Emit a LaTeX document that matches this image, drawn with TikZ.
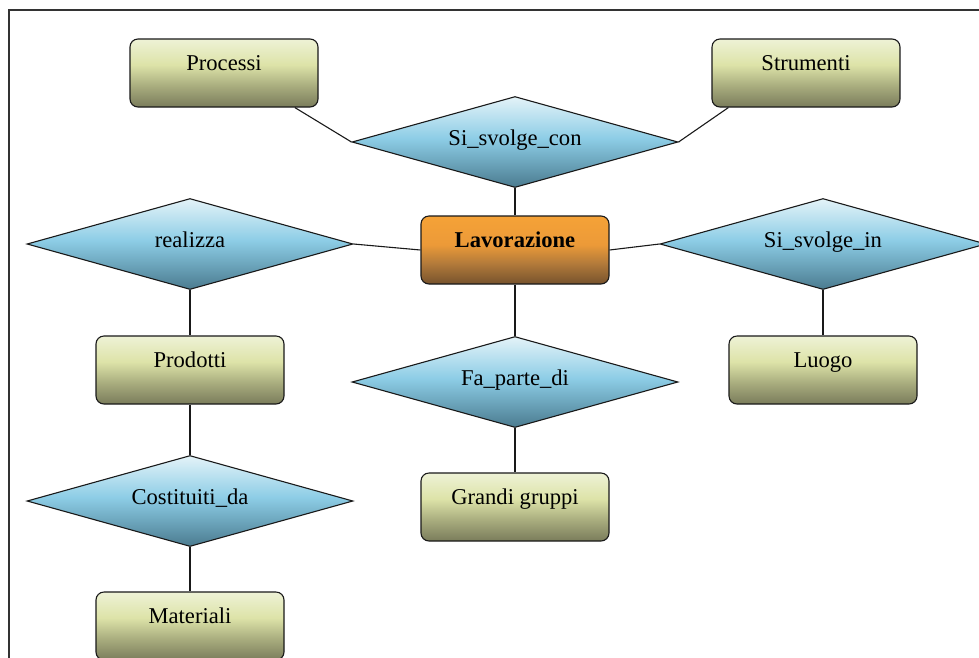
\documentclass[tikz,border=0pt]{standalone}
\usepackage{fontspec}
\setmainfont{Liberation Serif}
\usetikzlibrary{shapes.geometric}

\definecolor{entTop}{HTML}{EEF2D6}
\definecolor{entMid}{HTML}{DDE3A8}
\definecolor{entLow}{HTML}{A7AB7D}
\definecolor{entBot}{HTML}{7A7C5B}
\definecolor{relTop}{HTML}{E4F3F8}
\definecolor{relMid}{HTML}{8DCDE6}
\definecolor{relLow}{HTML}{6FA9C0}
\definecolor{relBot}{HTML}{4B7B8F}
\definecolor{mainTop}{HTML}{F5A237}
\definecolor{mainMid}{HTML}{EC9A38}
\definecolor{mainLow}{HTML}{B27A3A}
\definecolor{mainBot}{HTML}{76522D}
\definecolor{frameGray}{HTML}{333333}

% vertical shadings: the path is mapped onto 25bp (bottom) .. 75bp (top)
\pgfdeclareverticalshading{entshade}{100bp}{color(0bp)=(entBot); color(25bp)=(entBot); color(40bp)=(entLow); color(56bp)=(entMid); color(75bp)=(entTop); color(100bp)=(entTop)}
\pgfdeclareverticalshading{relshade}{100bp}{color(0bp)=(relBot); color(25bp)=(relBot); color(40bp)=(relLow); color(52bp)=(relMid); color(75bp)=(relTop); color(100bp)=(relTop)}
\pgfdeclareverticalshading{mainshade}{100bp}{color(0bp)=(mainBot); color(25bp)=(mainBot); color(40bp)=(mainLow); color(54bp)=(mainMid); color(75bp)=(mainTop); color(100bp)=(mainTop)}

\begin{document}
\begin{tikzpicture}[x=1pt,y=-1pt,
  every node/.style={font=\fontsize{22.6}{26}\selectfont},
  entity/.style={draw=black!90, line width=1.1pt, rounded corners=8pt,
    minimum width=188pt, minimum height=68pt, inner sep=0pt,
    text height=15pt, text depth=21pt, shading=entshade},
  mainentity/.style={entity, shading=mainshade,
    font=\fontsize{22.6}{26}\selectfont\bfseries},
  relation/.style={diamond, aspect=3.6, draw=black!90, line width=1.1pt,
    minimum width=326pt, minimum height=91pt, inner sep=0pt,
    text height=15pt, text depth=9pt, shading=relshade},
  link/.style={draw=black!90, line width=1.1pt}
]
\useasboundingbox (0,0) rectangle (979,657);
\clip (0,0) rectangle (979,657);

% page frame
\draw[frameGray, line width=1.5pt] (9,10) rectangle (1000,700);

% entities
\node[entity] (proc) at (224,73) {Processi};
\node[entity] (strum) at (806,73) {Strumenti};
\node[mainentity] (lav) at (515,250) {Lavorazione};
\node[entity] (prod) at (190,370) {Prodotti};
\node[entity] (luogo) at (823,370) {Luogo};
\node[entity] (grandi) at (515,507) {Grandi gruppi};
\node[entity] (mat) at (190,626) {Materiali};

% relationships
\node[relation] (svcon) at (515,142) {Si\_svolge\_con};
\node[relation] (real) at (190,244) {realizza};
\node[relation] (svin) at (823,244) {Si\_svolge\_in};
\node[relation] (fpd) at (515,382) {Fa\_parte\_di};
\node[relation] (cost) at (190,501) {Costituiti\_da};

% connectors
\draw[link] (proc.-26) -- (svcon.west);
\draw[link] (strum.-156) -- (svcon.east);
\draw[link] (svcon.south) -- (lav.north);
\draw[link] (real.east) -- (lav.west);
\draw[link] (lav.east) -- (svin.west);
\draw[link] (lav.south) -- (fpd.north);
\draw[link] (fpd.south) -- (grandi.north);
\draw[link] (real.south) -- (prod.north);
\draw[link] (prod.south) -- (cost.north);
\draw[link] (cost.south) -- (mat.north);
\draw[link] (svin.south) -- (luogo.north);
\end{tikzpicture}
\end{document}
